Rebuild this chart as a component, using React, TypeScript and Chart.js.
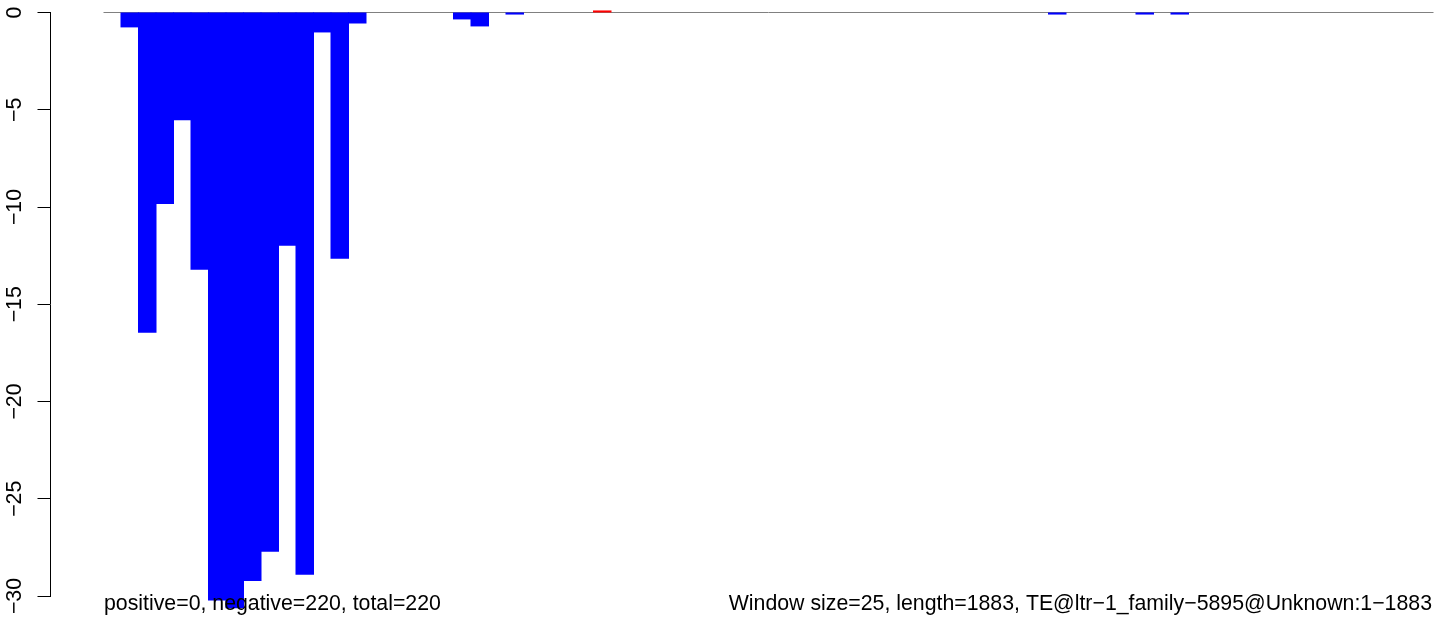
import React, { useEffect, useRef } from "react";
import { Chart, registerables } from "chart.js";

Chart.register(...registerables);

// Sliding-window scores (one bar per window of 25 bp)
const windowValues: number[] = [
  0, -0.74, -16.44, -9.82, -5.51, -13.2, -30.2, -30.6, -29.2, -27.7,
  -11.97, -28.88, -1.0, -12.64, -0.54, 0, 0, 0, 0, 0,
  -0.33, -0.69, 0, -0.08, 0, 0, 0, 0, 0.08, 0,
  0, 0, 0, 0, 0, 0, 0, 0, 0, 0,
  0, 0, 0, 0, 0, 0, 0, 0, 0, 0,
  0, 0, 0, 0, -0.08, 0, 0, 0, 0, -0.08,
  0, -0.08, 0, 0, 0, 0, 0, 0, 0, 0,
  0, 0, 0, 0, 0, 0,
];

const yTickValues: number[] = [0, -5, -10, -15, -20, -25, -30];

const summaryText = "positive=0, negative=220, total=220";
const infoText = "Window size=25, length=1883, TE@ltr\u22121_family\u22125895@Unknown:1\u22121883";

const positiveColor = "#ff0000";
const negativeColor = "#0000ff";
const emptyColor = "rgba(0,0,0,0)";
const FONT = "21.3px 'Liberation Sans', Arial, Helvetica, sans-serif";

function fmtTick(v: number): string {
  return v < 0 ? "\u2212" + Math.abs(v) : String(v);
}

const overlayPlugin = {
  id: "rOverlay",
  beforeDatasetsDraw(chart: any) {
    const { ctx, scales } = chart;
    const x = scales.x;
    const y = scales.y;
    const y0 = y.getPixelForValue(0);
    ctx.save();
    ctx.strokeStyle = "#808080";
    ctx.lineWidth = 1;
    ctx.beginPath();
    ctx.moveTo(x.getPixelForValue(-0.5), y0);
    ctx.lineTo(x.getPixelForValue(windowValues.length - 0.5), y0);
    ctx.stroke();
    ctx.restore();
  },
  afterDatasetsDraw(chart: any) {
    const { ctx, scales, chartArea } = chart;
    const x = scales.x;
    const y = scales.y;
    ctx.save();
    ctx.fillStyle = "#000000";
    ctx.font = FONT;
    for (const v of yTickValues) {
      const py = y.getPixelForValue(v);
      ctx.save();
      ctx.translate(y.right - 29.5, py);
      ctx.rotate(-Math.PI / 2);
      ctx.textAlign = "center";
      ctx.textBaseline = "alphabetic";
      ctx.fillText(fmtTick(v), 0, 0);
      ctx.restore();
    }
    const baseY = chartArea.bottom + 14;
    ctx.textBaseline = "alphabetic";
    ctx.textAlign = "left";
    ctx.fillText(summaryText, x.getPixelForValue(-0.5) + 0.5, baseY);
    ctx.textAlign = "right";
    ctx.fillText(infoText, x.getPixelForValue(windowValues.length - 0.5) - 1.5, baseY);
    ctx.restore();
  },
};

export default function App() {
  const canvasRef = useRef<HTMLCanvasElement | null>(null);

  useEffect(() => {
    document.body.style.margin = "0";
    const canvas = canvasRef.current;
    if (!canvas) return;
    const data = windowValues.map((v, i) => ({ x: i, y: v }));
    const colors = windowValues.map((v) =>
      v > 0 ? positiveColor : v < 0 ? negativeColor : emptyColor
    );
    const chart = new Chart(canvas, {
      type: "bar",
      data: {
        datasets: [
          {
            data: data as any,
            backgroundColor: colors,
            borderWidth: 0,
            inflateAmount: 0.5,
            barPercentage: 1,
            categoryPercentage: 1,
            clip: false as any,
          } as any,
        ],
      },
      options: {
        animation: false,
        responsive: false,
        devicePixelRatio: 1,
        layout: { padding: { top: 12.5, bottom: 30, left: 0, right: 10.5 } },
        plugins: {
          legend: { display: false },
          tooltip: { enabled: false },
          title: { display: false },
        },
        scales: {
          x: {
            type: "linear",
            display: false,
            offset: false,
            min: -3.5286,
            max: 75.5,
            ticks: { stepSize: 10 },
          },
          y: {
            type: "linear",
            min: -30,
            max: 0,
            afterBuildTicks: (scale: any) => {
              scale.ticks = yTickValues.map((v) => ({ value: v }));
            },
            afterFit: (scale: any) => {
              scale.width = 50.5;
            },
            ticks: { display: false },
            grid: {
              drawOnChartArea: false,
              drawTicks: true,
              tickLength: 13,
              color: "#000000",
              lineWidth: 1,
            },
            border: { display: true, color: "#000000", width: 1 },
          },
        },
      },
      plugins: [overlayPlugin],
    });
    return () => chart.destroy();
  }, []);

  return (
    <canvas
      ref={canvasRef}
      width={1444}
      height={626}
      style={{ display: "block", width: "1444px", height: "626px" }}
    />
  );
}
